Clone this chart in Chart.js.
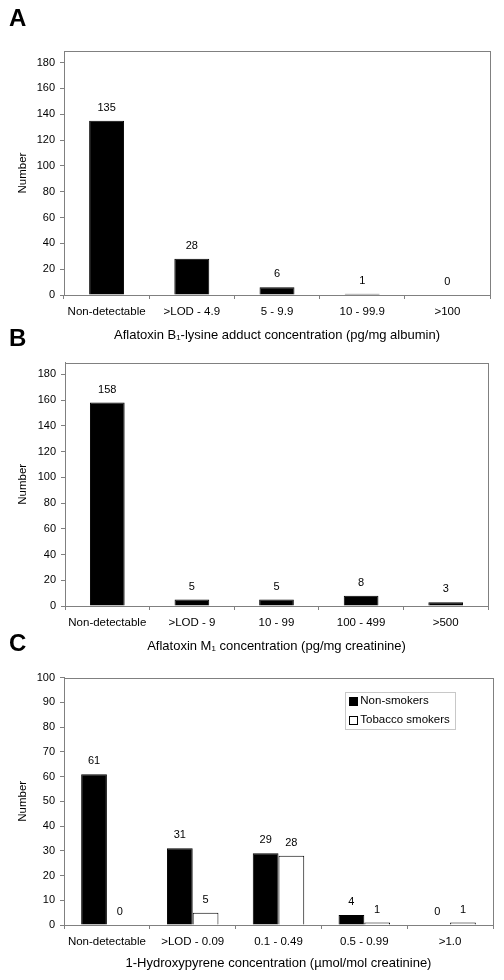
<!DOCTYPE html>
<html>
<head>
<meta charset="utf-8">
<script src="https://cdn.jsdelivr.net/npm/chart.js@4"></script>
<style>
  html, body { margin: 0; padding: 0; background: #fff; }
  body { width: 504px; height: 980px; position: relative; overflow: hidden; font-family: 'Liberation Sans', Arial, sans-serif; }
  .panel { position: absolute; left: 0; }
  .letter { position: absolute; font-weight: bold; font-size: 24px; line-height: 24px; color: #000; }
</style>
</head>
<body>
<div class="panel" style="top:0px;"><canvas id="cA" width="504" height="345"></canvas></div>
<div class="panel" style="top:320px;"><canvas id="cB" width="504" height="340"></canvas></div>
<div class="panel" style="top:640px;"><canvas id="cC" width="504" height="340"></canvas></div>
<div class="letter" style="left:9px; top:6px;">A</div>
<div class="letter" style="left:9px; top:326px;">B</div>
<div class="letter" style="left:9px; top:631px;">C</div>
<script>
// ---------- data ----------
const categoriesA = ['Non-detectable', '>LOD - 4.9', '5 - 9.9', '10 - 99.9', '>100'];
const valuesA = [135, 28, 6, 1, 0];
const titleA = 'Aflatoxin B\u2081-lysine adduct concentration (pg/mg albumin)';

const categoriesB = ['Non-detectable', '>LOD - 9', '10 - 99', '100 - 499', '>500'];
const valuesB = [158, 5, 5, 8, 3];
const titleB = 'Aflatoxin M\u2081 concentration (pg/mg creatinine)';

const categoriesC = ['Non-detectable', '>LOD - 0.09', '0.1 - 0.49', '0.5 - 0.99', '>1.0'];
const nonSmokers = [61, 31, 29, 4, 0];
const tobaccoSmokers = [0, 5, 28, 1, 1];
const titleC = '1-Hydroxypyrene concentration (\u00b5mol/mol creatinine)';

const yAxisTitle = 'Number';
const yMaxAB = 189, yStepAB = 20;
const yMaxC = 100, yStepC = 10;

// ---------- styling ----------
const FONT = "'Liberation Sans', Arial, sans-serif";
Chart.defaults.font.family = FONT;
Chart.defaults.color = '#000';
const AXIS = '#808080';

const framePlugin = {
  id: 'frame',
  afterDraw(chart) {
    const a = chart.chartArea, ctx = chart.ctx;
    ctx.save();
    ctx.strokeStyle = AXIS;
    ctx.lineWidth = 1;
    ctx.strokeRect(Math.round(a.left) + 0.5, Math.round(a.top) + 0.5, Math.round(a.right - a.left), Math.round(a.bottom - a.top));
    ctx.restore();
  }
};

const valueLabels = {
  id: 'valueLabels',
  afterDatasetsDraw(chart) {
    const ctx = chart.ctx;
    ctx.save();
    ctx.font = '11px ' + FONT;
    ctx.fillStyle = '#000';
    ctx.textAlign = 'center';
    ctx.textBaseline = 'middle';
    chart.data.datasets.forEach((ds, i) => {
      const meta = chart.getDatasetMeta(i);
      meta.data.forEach((el, j) => {
        ctx.fillText(String(ds.data[j]), el.x, el.y - 13);
      });
    });
    ctx.restore();
  }
};

const boxLegend = {
  id: 'boxLegend',
  afterDraw(chart, args, opts) {
    if (!opts || !opts.show) return;
    const a = chart.chartArea, ctx = chart.ctx;
    const w = 110, h = 37;
    const x = a.right - 37.7 - w, y = a.top + 14;
    ctx.save();
    ctx.strokeStyle = '#c8c8c8';
    ctx.lineWidth = 1;
    ctx.strokeRect(Math.round(x) + 0.5, Math.round(y) + 0.5, w, h);
    ctx.font = '11.5px ' + FONT;
    ctx.textBaseline = 'middle';
    ctx.textAlign = 'left';
    chart.data.datasets.forEach((ds, i) => {
      const cy = y + 9 + i * 19;
      ctx.fillStyle = ds.backgroundColor;
      ctx.fillRect(Math.round(x + 4) + 0.5, Math.round(cy - 4) + 0.5, 8, 8);
      ctx.strokeStyle = '#000';
      ctx.strokeRect(Math.round(x + 4) + 0.5, Math.round(cy - 4) + 0.5, 8, 8);
      ctx.fillStyle = '#000';
      ctx.fillText(ds.label, x + 15, cy);
    });
    ctx.restore();
  }
};

function makeChart(id, cfg) {
  return new Chart(document.getElementById(id), {
    type: 'bar',
    data: { labels: cfg.labels, datasets: cfg.datasets },
    plugins: [framePlugin, valueLabels, boxLegend],
    options: {
      responsive: false,
      animation: false,
      events: [],
      layout: { padding: { top: cfg.padTop, right: cfg.padRight, left: 0, bottom: 0 } },
      plugins: {
        legend: { display: false },
        tooltip: { enabled: false },
        boxLegend: { show: !!cfg.legend }
      },
      scales: {
        x: {
          offset: true,
          grid: { offset: true, drawOnChartArea: false, drawTicks: true, tickLength: 4, color: AXIS },
          border: { color: AXIS },
          ticks: { font: { size: 11.5 }, padding: 6, maxRotation: 0, autoSkip: false, color: '#000' },
          title: { display: true, text: cfg.xTitle, font: { size: 13 }, color: '#000', padding: { top: 0, bottom: cfg.xTitlePadBottom } },
          afterFit(scale) { scale.height = cfg.xHeight; }
        },
        y: {
          min: 0,
          max: cfg.yMax,
          grid: { drawOnChartArea: false, drawTicks: true, tickLength: 4, color: AXIS },
          border: { color: AXIS },
          ticks: { stepSize: cfg.yStep, includeBounds: false, font: { size: 11 }, padding: 5, color: '#000' },
          title: { display: true, text: yAxisTitle, font: { size: 11.5 }, color: '#000', padding: { top: 16, bottom: 0 } },
          afterFit(scale) { scale.width = cfg.yWidth; }
        }
      }
    }
  });
}

makeChart('cA', {
  labels: categoriesA,
  datasets: [{ label: 'A', data: valuesA, backgroundColor: '#000', borderColor: '#000', borderWidth: 1, barPercentage: 0.41, categoryPercentage: 1.0 }],
  xTitle: titleA, padTop: 51, padRight: 14, yWidth: 64, xHeight: 50, xTitlePadBottom: 1.5,
  yMax: yMaxAB, yStep: yStepAB
});

makeChart('cB', {
  labels: categoriesB,
  datasets: [{ label: 'B', data: valuesB, backgroundColor: '#000', borderColor: '#000', borderWidth: 1, barPercentage: 0.41, categoryPercentage: 1.0 }],
  xTitle: titleB, padTop: 42.7, padRight: 16, yWidth: 65, xHeight: 54, xTitlePadBottom: 5.5,
  yMax: yMaxAB, yStep: yStepAB
});

makeChart('cC', {
  labels: categoriesC,
  datasets: [
    { label: 'Non-smokers', data: nonSmokers, backgroundColor: '#000', borderColor: '#000', borderWidth: 1, barPercentage: 1.0, categoryPercentage: 0.6 },
    { label: 'Tobacco smokers', data: tobaccoSmokers, backgroundColor: '#fff', borderColor: '#000', borderWidth: 1, barPercentage: 1.0, categoryPercentage: 0.6 }
  ],
  xTitle: titleC, padTop: 37.7, padRight: 11, yWidth: 64, xHeight: 55, xTitlePadBottom: 8.5,
  yMax: yMaxC, yStep: yStepC, legend: true
});
</script>
</body>
</html>
